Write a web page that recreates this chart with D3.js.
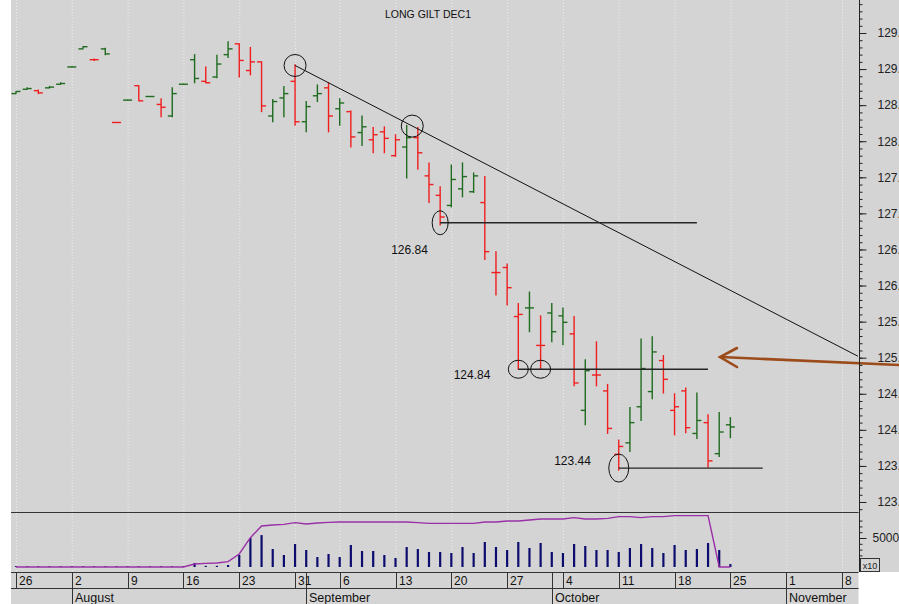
<!DOCTYPE html>
<html>
<head>
<meta charset="utf-8">
<script src="https://cdn.jsdelivr.net/npm/d3@7"></script>
<style>
  body { margin: 0; background: #fff; }
  svg { display: block; font-family: "Liberation Sans", Arial, sans-serif; }
</style>
</head>
<body>
<script>
const width = 899;
const height = 604;

// trading-day slot index -> label (Monday or first trading day of week)
const weekTicks = [[0, '26'], [5, '2'], [10, '9'], [15, '16'], [20, '23'], [25, '31'], [29, '6'], [34, '13'],
  [39, '20'], [44, '27'], [49, '4'], [54, '11'], [59, '18'], [64, '25'], [69, '1'], [74, '8']];
const monthTicks = [[5, 'August'], [26, 'September'], [48, 'October'], [69, 'November']];

// daily OHLC, 26 Jul -> 25 Oct
const opens = [128.66, 128.72, 128.70, 128.74, 128.79, 129.03, 129.28, 129.13, 129.28, 128.26,
  128.57, 128.77, 128.62, 128.51, 128.35, 128.79, 129.13, 128.83, 128.89, 129.20,
  129.35, 128.98, 129.10, 128.35, 128.60, 128.83, 128.27, 128.63, 128.74, 128.45,
  128.41, 128.12, 128.02, 128.13, 127.80, 127.92, 128.05, 127.52, 127.25, 127.11,
  127.34, 127.30, 127.15, 126.18, 126.25, 125.57, 125.69, 125.17, 125.62, 125.58,
  125.33, 124.27, 124.76, 124.54, 123.66, 123.82, 124.32, 124.53, 124.96, 124.27,
  124.54, 123.95, 124.10, 123.67, 124.07];
const highs = [128.69, 128.74, 128.71, 128.76, 128.81, 129.03, 129.31, 129.14, 129.29, 128.26,
  128.57, 128.77, 128.62, 128.59, 128.74, 128.79, 129.20, 129.03, 129.19, 129.38,
  129.35, 129.30, 129.10, 128.58, 128.76, 129.06, 128.55, 128.78, 128.81, 128.59,
  128.42, 128.35, 128.19, 128.20, 128.09, 128.22, 128.19, 127.70, 127.37, 127.67,
  127.70, 127.56, 127.51, 126.47, 126.30, 125.75, 125.91, 125.58, 125.75, 125.69,
  125.57, 124.97, 125.22, 124.63, 123.86, 124.31, 125.26, 125.29, 125.03, 124.50,
  124.58, 124.51, 124.21, 124.24, 124.17];
const lows = [128.66, 128.72, 128.66, 128.74, 128.79, 129.03, 129.28, 129.12, 129.20, 128.26,
  128.57, 128.56, 128.62, 128.34, 128.34, 128.79, 128.81, 128.81, 128.88, 129.16,
  128.89, 128.92, 128.41, 128.27, 128.34, 128.22, 128.13, 128.55, 128.13, 128.22,
  127.92, 127.94, 127.84, 127.84, 127.79, 127.49, 127.61, 127.15, 126.84, 127.09,
  127.23, 127.29, 126.36, 125.87, 125.73, 124.84, 125.36, 124.84, 125.22, 125.18,
  124.61, 124.07, 124.61, 123.95, 123.44, 123.70, 124.13, 124.43, 124.51, 123.93,
  123.96, 123.88, 123.48, 123.63, 123.89];
const closes = [128.69, 128.73, 128.67, 128.75, 128.80, 129.03, 129.31, 129.13, 129.21, 128.26,
  128.57, 128.56, 128.62, 128.47, 128.66, 128.79, 128.87, 128.81, 129.07, 129.28,
  129.12, 129.10, 128.49, 128.55, 128.66, 128.27, 128.48, 128.66, 128.35, 128.53,
  128.06, 128.20, 128.09, 128.04, 128.02, 128.05, 127.84, 127.40, 126.95, 127.47,
  127.51, 127.52, 126.47, 126.18, 125.97, 125.60, 125.69, 125.17, 125.36, 125.49,
  124.65, 124.82, 124.76, 124.02, 123.77, 124.10, 124.85, 125.08, 124.70, 124.32,
  124.03, 124.13, 123.57, 123.97, 124.04];

// volume (x10 contracts) and open interest (thousand contracts)
const volumes = [150, 150, 150, 150, 150, 150, 150, 150, 150, 150,
  150, 150, 150, 150, 150, 150, 700, 200, 200, 350,
  2070, 5000, 5500, 3100, 2070, 3960, 2930, 1720, 2240, 1720,
  3790, 2760, 2760, 2070, 1550, 3450, 3100, 2590, 2590, 2410,
  3450, 2410, 4310, 3450, 2930, 4310, 3280, 4140, 2590, 2410,
  3960, 3620, 2930, 2930, 2590, 3280, 3960, 3280, 2410, 3790,
  2930, 3100, 4140, 2930, 500];
const openInterest = [0, 0, 0, 0, 0, 0, 0, 0, 0, 0,
  0, 0, 0, 0, 0, 0, 9, 11, 12, 16,
  39, 88, 123, 126, 128, 133, 129, 132, 134, 135,
  135, 135, 135, 135, 135, 135, 133, 131, 131, 131,
  131, 131, 135, 135, 138, 138, 141, 144, 144, 144,
  148, 144, 144, 146, 151, 151, 148, 151, 151, 154,
  154, 154, 154, 0, 0];

// annotations: trend line, circled turning points, support levels [from, to, price, label, label slot]
const trendLine = [[25, 129.05], [75.43, 125.02]];
const markers = [[25, 129.05, 11, 11], [35.5, 128.21, 11, 11], [38, 126.87, 8, 12],
  [45, 124.84, 10, 9], [47, 124.84, 10, 9], [54, 123.47, 10, 14]];
const levels = [[38, 61, 126.87, '126.84', 36.9, 31], [45, 62, 124.84, '124.84', 42.5, 10],
  [54, 66.9, 123.47, '123.44', 51.5, -3]];

const x = d3.scaleLinear().domain([0, 74]).range([16, 842]);
const y = d3.scaleLinear().domain([123, 129.5]).range([502, 33]);
const yVol = d3.scaleLinear().domain([0, 5000]).range([567, 538]);
const yOi = d3.scaleLinear().domain([0, 150]).range([567, 517]);

const left = 11, right = 858.5, paneBottom = 512, axisTop = 572;
const green = '#1f6b1f', red = '#f01e1e';

const svg = d3.select('body').append('svg')
  .attr('width', width)
  .attr('height', height)
  .attr('viewBox', [0, 0, width, height]);

svg.append('rect').attr('width', width).attr('height', height).attr('fill', '#fff');
svg.append('rect').attr('x', left).attr('y', 0).attr('width', width - left).attr('height', axisTop).attr('fill', '#d4d4d4');
svg.append('rect').attr('x', left).attr('y', axisTop).attr('width', right - left).attr('height', height - axisTop).attr('fill', '#d4d4d4');

svg.append('defs').append('clipPath').attr('id', 'price-clip')
  .append('rect').attr('x', left).attr('y', 0).attr('width', right - left).attr('height', paneBottom);

// weekly dotted grid
svg.append('g')
  .selectAll('line')
  .data(weekTicks)
  .join('line')
    .attr('x1', d => x(d[0]) + 0.5)
    .attr('x2', d => x(d[0]) + 0.5)
    .attr('y1', 0)
    .attr('y2', axisTop)
    .attr('stroke', '#ededed')
    .attr('stroke-dasharray', '1,2');

// title
svg.append('text')
  .attr('x', 428)
  .attr('y', 18)
  .attr('text-anchor', 'middle')
  .attr('font-size', 10.5)
  .attr('fill', '#111')
  .text('LONG GILT DEC1');

// OHLC bars
const bars = svg.append('g').attr('stroke-width', 1.4);
const barColor = i => (i === 0 || closes[i] >= closes[i - 1]) ? green : red;
const idx = d3.range(opens.length);

bars.selectAll('line.hl')
  .data(idx)
  .join('line')
    .attr('class', 'hl')
    .attr('x1', i => x(i)).attr('x2', i => x(i))
    .attr('y1', i => y(highs[i]) - 0.5).attr('y2', i => y(lows[i]) + 0.5)
    .attr('stroke', barColor);

bars.selectAll('line.o')
  .data(idx)
  .join('line')
    .attr('class', 'o')
    .attr('x1', i => x(i) - 4.5).attr('x2', i => x(i))
    .attr('y1', i => y(opens[i])).attr('y2', i => y(opens[i]))
    .attr('stroke', barColor);

bars.selectAll('line.c')
  .data(idx)
  .join('line')
    .attr('class', 'c')
    .attr('x1', i => x(i)).attr('x2', i => x(i) + 4.5)
    .attr('y1', i => y(closes[i])).attr('y2', i => y(closes[i]))
    .attr('stroke', barColor);

// annotations
const notes = svg.append('g').attr('clip-path', 'url(#price-clip)');

notes.append('line')
  .attr('x1', x(trendLine[0][0])).attr('y1', y(trendLine[0][1]))
  .attr('x2', x(trendLine[1][0])).attr('y2', y(trendLine[1][1]))
  .attr('stroke', '#111')
  .attr('stroke-width', 1);

notes.selectAll('line.level')
  .data(levels)
  .join('line')
    .attr('class', 'level')
    .attr('x1', d => x(d[0])).attr('x2', d => x(d[1]))
    .attr('y1', d => y(d[2])).attr('y2', d => y(d[2]))
    .attr('stroke', '#262626')
    .attr('stroke-width', 1.3);

notes.selectAll('ellipse')
  .data(markers)
  .join('ellipse')
    .attr('cx', d => x(d[0]))
    .attr('cy', d => y(d[1]))
    .attr('rx', d => d[2])
    .attr('ry', d => d[3])
    .attr('fill', 'none')
    .attr('stroke', '#111')
    .attr('stroke-width', 1);

notes.selectAll('text')
  .data(levels)
  .join('text')
    .attr('x', d => x(d[4]))
    .attr('y', d => y(d[2]) + d[5])
    .attr('text-anchor', 'end')
    .attr('font-size', 12)
    .attr('fill', '#111')
    .text(d => d[3]);

// brown arrow pointing at the trend line break
const arrow = svg.append('g')
  .attr('stroke', '#9c4c1a')
  .attr('stroke-width', 2.6)
  .attr('fill', 'none')
  .attr('stroke-linecap', 'round');
arrow.append('line').attr('x1', 899).attr('y1', 365).attr('x2', 721).attr('y2', 357);
arrow.append('polyline').attr('points', '737,348 720,357 737,367');

// volume pane
svg.append('line')
  .attr('x1', left).attr('x2', right)
  .attr('y1', paneBottom + 0.5).attr('y2', paneBottom + 0.5)
  .attr('stroke', '#333');

svg.append('g')
  .selectAll('line')
  .data(idx)
  .join('line')
    .attr('x1', i => x(i)).attr('x2', i => x(i))
    .attr('y1', i => yVol(volumes[i]))
    .attr('y2', yVol(0))
    .attr('stroke', '#0c0c6e')
    .attr('stroke-width', 2.2);

svg.append('path')
  .datum(idx)
  .attr('fill', 'none')
  .attr('stroke', '#9a2fa8')
  .attr('stroke-width', 1.4)
  .attr('d', d3.line().x(i => x(i)).y(i => yOi(openInterest[i])));

// right axis
const axisX = 859.5;
svg.append('line')
  .attr('x1', axisX).attr('x2', axisX)
  .attr('y1', 0).attr('y2', axisTop)
  .attr('stroke', '#222');

const priceMinor = d3.range(1229, 1300).map(v => v / 10).filter(v => y(v) > 1 && y(v) < paneBottom - 2);
const priceMajor = d3.range(123, 130, 0.5);

const axisG = svg.append('g').attr('transform', `translate(${axisX},0)`);
axisG.append('g')
  .call(d3.axisRight(y).tickValues(priceMinor).tickSize(3).tickFormat(''))
  .call(g => g.select('.domain').remove());
axisG.append('g')
  .call(d3.axisRight(y).tickValues(priceMajor).tickSize(7).tickPadding(11).tickFormat(d3.format('.2f')))
  .call(g => g.select('.domain').remove())
  .call(g => g.selectAll('text').attr('font-size', 12).attr('fill', '#222').attr('font-family', '"Liberation Sans", Arial, sans-serif'));

axisG.append('g')
  .call(d3.axisRight(yVol).tickValues(d3.range(1000, 10000, 1000).filter(v => yVol(v) > paneBottom + 3)).tickSize(3).tickFormat(''))
  .call(g => g.select('.domain').remove());
axisG.append('g')
  .call(d3.axisRight(yVol).tickValues([5000]).tickSize(7).tickPadding(6).tickFormat(d3.format('d')))
  .call(g => g.select('.domain').remove())
  .call(g => g.selectAll('text').attr('font-size', 12).attr('fill', '#222').attr('font-family', '"Liberation Sans", Arial, sans-serif'));
axisG.selectAll('line').attr('stroke', '#222');

svg.append('rect')
  .attr('x', 860.5).attr('y', 558.5).attr('width', 19).attr('height', 13)
  .attr('fill', '#d4d4d4').attr('stroke', '#333');
svg.append('text')
  .attr('x', 870).attr('y', 568.5)
  .attr('text-anchor', 'middle')
  .attr('font-size', 9)
  .attr('fill', '#222')
  .text('x10');

// date axis
const dateAxis = svg.append('g').attr('stroke', '#333');
dateAxis.append('line').attr('x1', left).attr('x2', right).attr('y1', axisTop + 0.5).attr('y2', axisTop + 0.5);
dateAxis.append('line').attr('x1', left).attr('x2', right).attr('y1', 588.5).attr('y2', 588.5);

dateAxis.selectAll('line.week')
  .data(weekTicks)
  .join('line')
    .attr('class', 'week')
    .attr('x1', d => Math.round(x(d[0])) + 0.5).attr('x2', d => Math.round(x(d[0])) + 0.5)
    .attr('y1', axisTop).attr('y2', 588);

dateAxis.selectAll('line.month')
  .data(monthTicks)
  .join('line')
    .attr('class', 'month')
    .attr('x1', d => Math.round(x(d[0])) + 0.5).attr('x2', d => Math.round(x(d[0])) + 0.5)
    .attr('y1', axisTop).attr('y2', height);

svg.append('g')
  .selectAll('text')
  .data(weekTicks)
  .join('text')
    .attr('x', d => Math.round(x(d[0])) + 3)
    .attr('y', 585)
    .attr('font-size', 12)
    .attr('fill', '#111')
    .text(d => d[1]);

svg.append('g')
  .selectAll('text')
  .data(monthTicks)
  .join('text')
    .attr('x', d => Math.round(x(d[0])) + 3)
    .attr('y', 602)
    .attr('font-size', 12.5)
    .attr('fill', '#111')
    .text(d => d[1]);
</script>
</body>
</html>
